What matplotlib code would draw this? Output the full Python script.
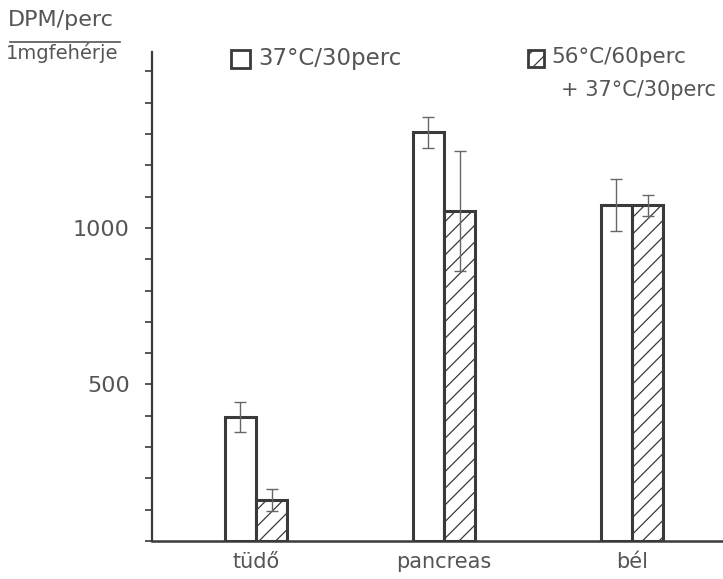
import matplotlib
matplotlib.use('Agg')
import matplotlib.pyplot as plt
import numpy as np

plt.rcParams['font.family'] = ['DejaVu Sans']
plt.rcParams['hatch.linewidth'] = 0.9
plt.rcParams['hatch.color'] = '#555555'

# DPM/perc per 1 mg protein
organs = ['tüdő', 'pancreas', 'bél']
ctrl_vals = [395, 1305, 1072]       # 37°C/30perc
ctrl_err = [48, 50, 83]
heat_vals = [130, 1055, 1072]       # 56°C/60perc + 37°C/30perc
heat_err = [35, 192, 34]

ink = '#3a3a3a'
txt = '#555555'

fig = plt.figure(figsize=(7.23, 5.79), dpi=100)
ax = fig.add_axes([152/723, 38/579, 571/723, 489/579])

x = np.arange(len(organs))
w = 0.166

ax.bar(x - w/2, ctrl_vals, w, facecolor='white', edgecolor=ink, linewidth=2.2)
ax.bar(x + w/2, heat_vals, w, facecolor='white', edgecolor=ink, linewidth=2.2,
       hatch='//')
ax.errorbar(x - w/2, ctrl_vals, yerr=ctrl_err, fmt='none', ecolor='#666666',
            elinewidth=1.0, capsize=4, capthick=1.0)
ax.errorbar(x + w/2, heat_vals, yerr=heat_err, fmt='none', ecolor='#666666',
            elinewidth=1.0, capsize=4, capthick=1.0)

ax.set_xlim(-0.553, 2.484)
ax.set_ylim(0, 1562)

for s in ['top', 'right']:
    ax.spines[s].set_visible(False)
ax.spines['left'].set_color(ink)
ax.spines['left'].set_linewidth(1.6)
ax.spines['bottom'].set_color(ink)
ax.spines['bottom'].set_linewidth(1.8)

ax.set_yticks(range(0, 1501, 100))
ax.set_yticklabels(['500' if v == 500 else '1000' if v == 1000 else ''
                    for v in range(0, 1501, 100)])
ax.tick_params(axis='y', direction='out', length=5, width=1.2, color=ink,
               labelsize=16, labelcolor=txt, pad=11)
ax.set_xticks(x)
ax.set_xticklabels(organs)
ax.tick_params(axis='x', length=0, labelsize=15, labelcolor=txt, pad=8)

# y-axis unit written as a fraction in the top-left corner
fig.text(8/723, 1 - 20/579, 'DPM/perc', fontsize=16, color=txt,
         ha='left', va='center')
fig.add_artist(plt.Line2D([10/723, 120/723], [1 - 42/579, 1 - 42/579],
                          color=txt, linewidth=1.2))
fig.text(6/723, 1 - 53/579, '1mgfehérje', fontsize=14, color=txt,
         ha='left', va='center')

# legend drawn by hand: boxes with text beside them
fig.add_artist(plt.Rectangle((231/723, 1 - 68/579), 19/723, 18/579,
                             facecolor='white', edgecolor=ink, linewidth=2,
                             transform=fig.transFigure))
fig.text(258/723, 1 - 58/579, '37°C/30perc', fontsize=16.5, color=txt,
         ha='left', va='center')
fig.add_artist(plt.Rectangle((528/723, 1 - 67/579), 16/723, 17/579,
                             facecolor='white', edgecolor=ink, linewidth=2,
                             hatch='//', transform=fig.transFigure))
fig.text(551/723, 1 - 57/579, '56°C/60perc', fontsize=15.5, color=txt,
         ha='left', va='center')
fig.text(561/723, 1 - 90/579, '+ 37°C/30perc', fontsize=15, color=txt,
         ha='left', va='center')

fig.savefig('out.png', dpi=100)
